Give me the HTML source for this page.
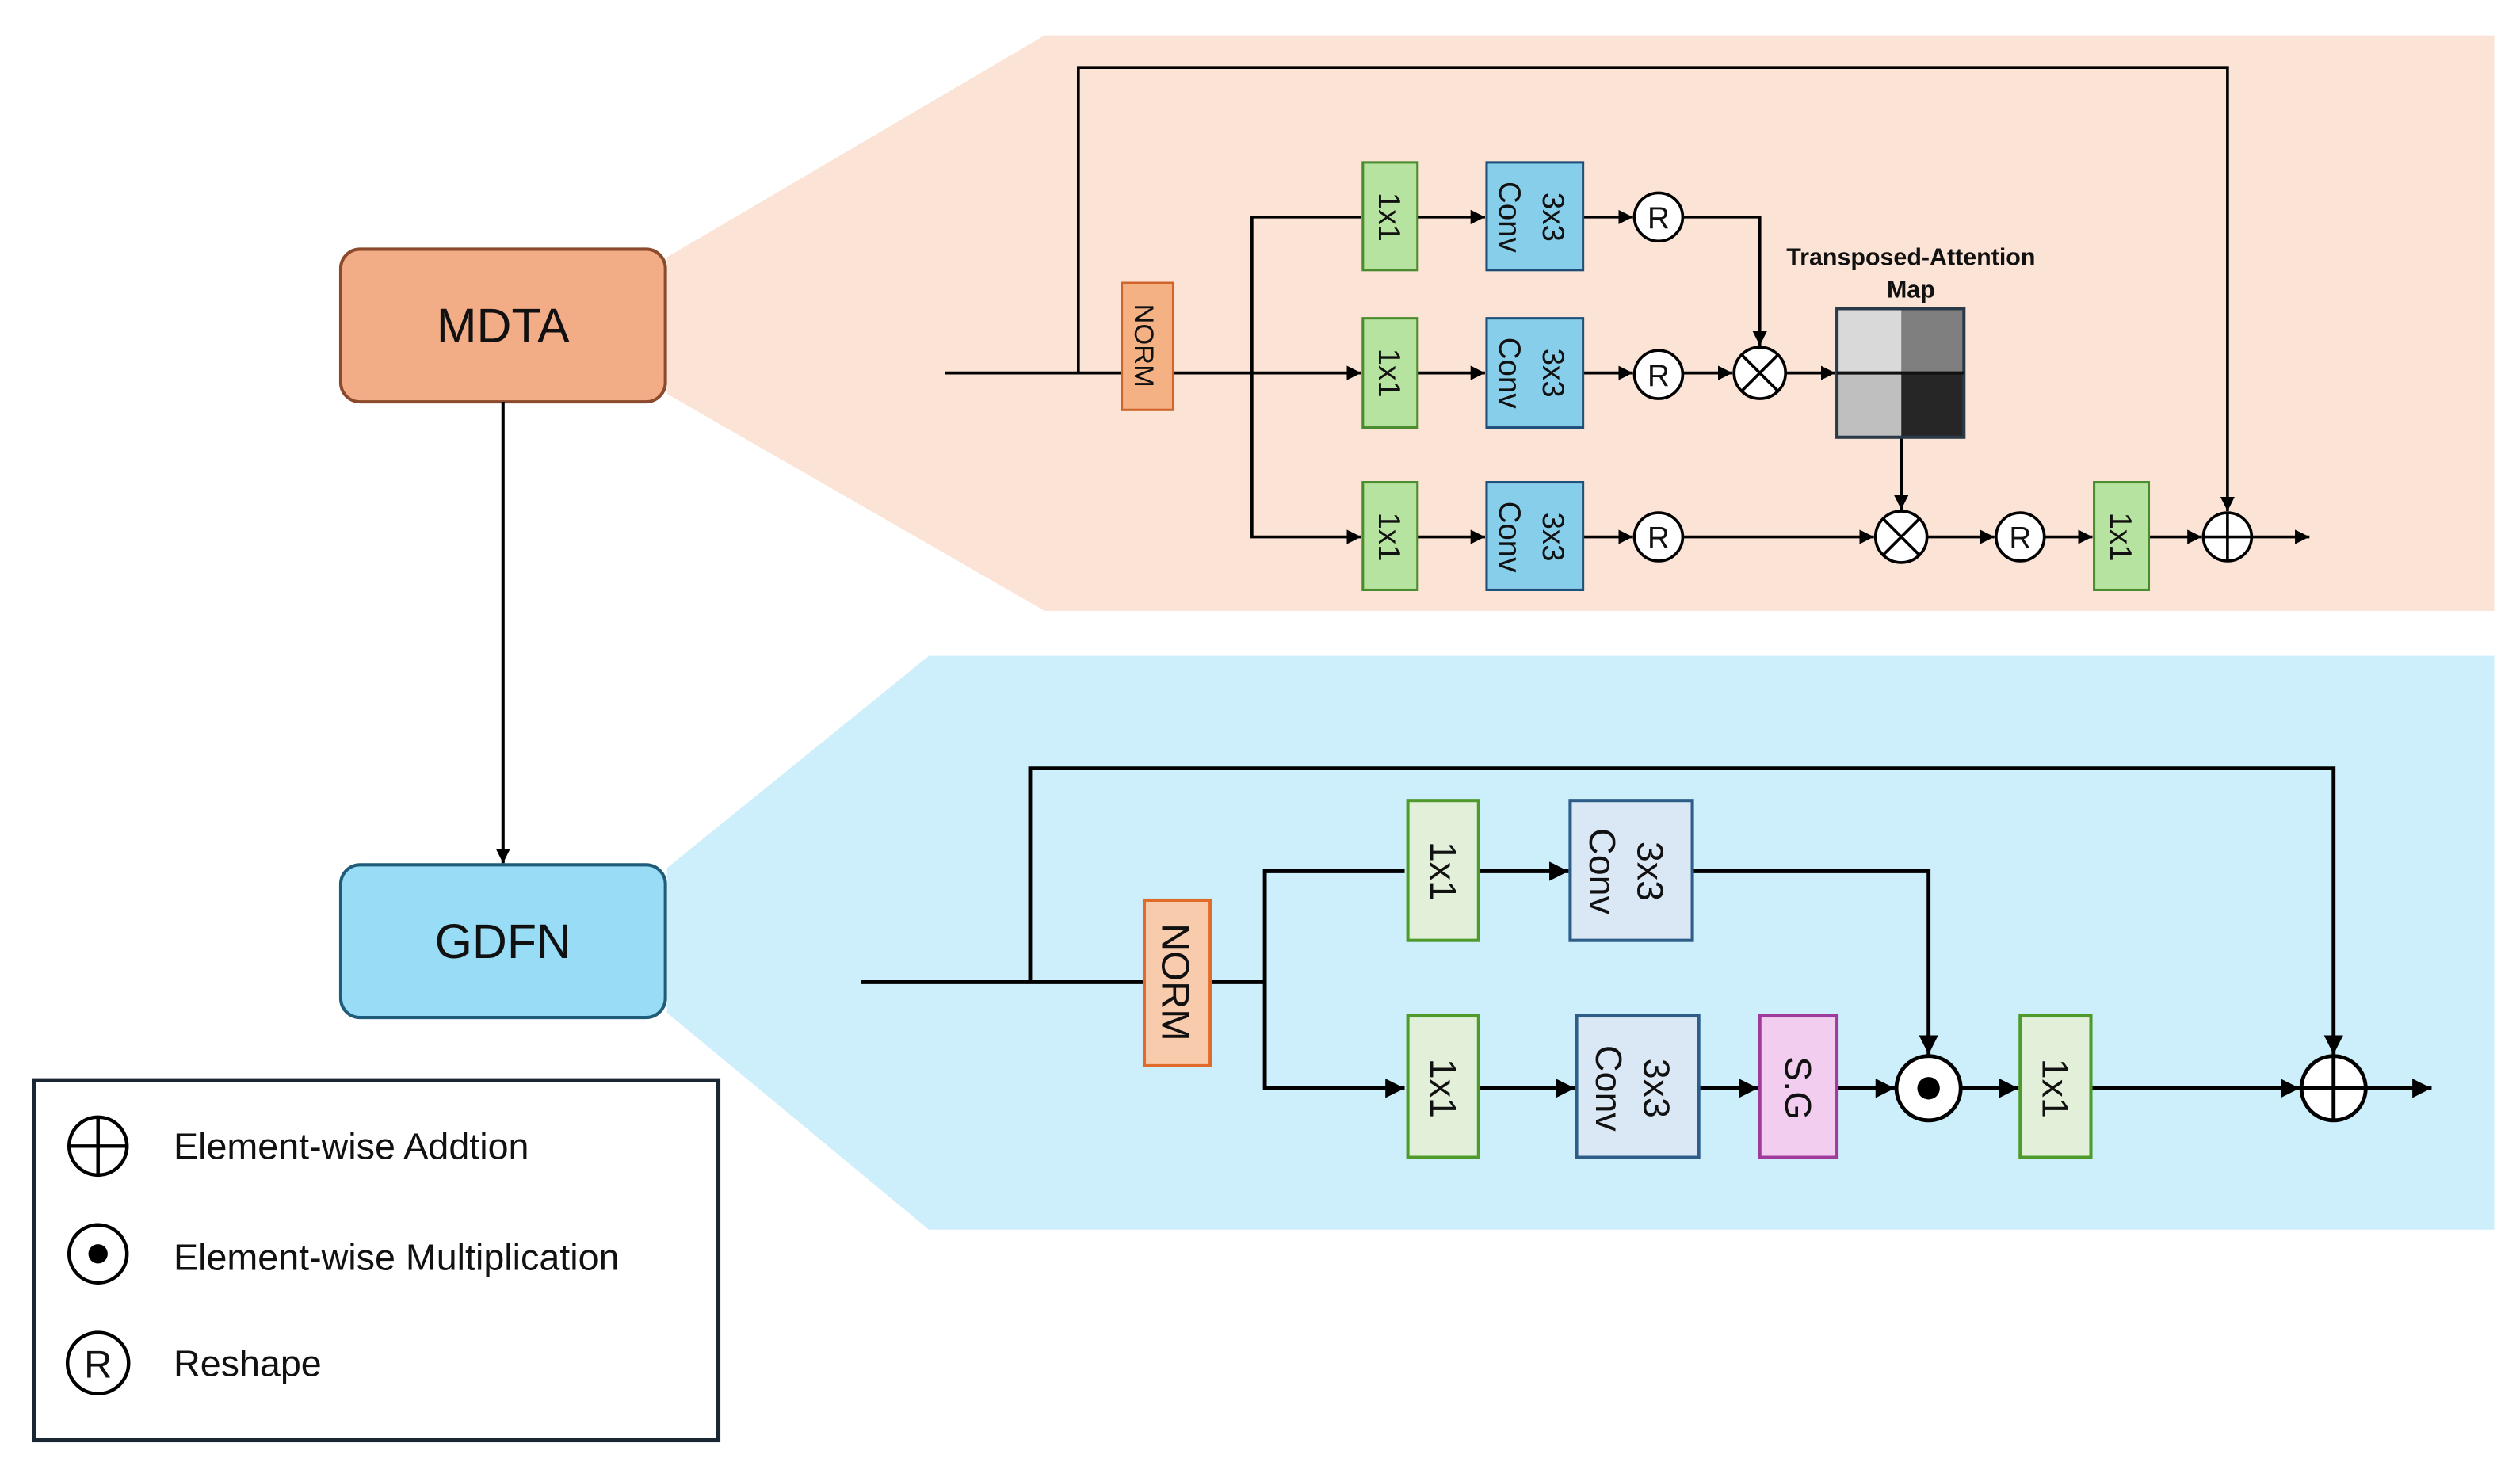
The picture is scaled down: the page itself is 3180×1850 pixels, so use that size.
<!DOCTYPE html>
<html><head><meta charset="utf-8"><style>html,body{margin:0;padding:0;background:#fff}svg{display:block}text{font-family:"Liberation Sans",sans-serif;fill:#111}</style></head>
<body>
<svg width="3180" height="1850" viewBox="0 0 1568 912" preserveAspectRatio="none" xmlns="http://www.w3.org/2000/svg">
<defs>
<marker id="a" viewBox="0 0 10 10" refX="10" refY="5" markerWidth="5" markerHeight="5" orient="auto-start-reverse"><path d="M0,0L10,5L0,10z" fill="#000"/></marker>
<marker id="b" viewBox="0 0 10 10" refX="10" refY="5" markerWidth="4.5" markerHeight="4.5" orient="auto-start-reverse"><path d="M0,0L10,5L0,10z" fill="#000"/></marker>
</defs>
<polygon points="415,160 650,22 1552,22 1552,380 650,380 415,245" fill="#fbe3d6"/>
<polygon points="415,540 578,408 1552,408 1552,765 578,765 415,630" fill="#cdeefb"/>
<rect x="212" y="155" width="202" height="95" rx="12" fill="#f2ad86" stroke="#8b4a2b" stroke-width="2"/>
<text x="313" y="213" font-size="30" text-anchor="middle">MDTA</text>
<rect x="212" y="538" width="202" height="95" rx="12" fill="#98dcf5" stroke="#1f5c7a" stroke-width="2"/>
<text x="313" y="596" font-size="30" text-anchor="middle">GDFN</text>
<line x1="313" y1="250" x2="313" y2="537" stroke="#000" stroke-width="2" marker-end="url(#b)"/>
<rect x="21" y="672" width="426" height="224" fill="#fff" stroke="#1a2633" stroke-width="2.5"/>
<g stroke="#000" stroke-width="2.2" fill="#fff">
<circle cx="61" cy="713" r="18"/><line x1="43" y1="713" x2="79" y2="713"/><line x1="61" y1="695" x2="61" y2="731"/>
<circle cx="61" cy="780" r="18"/><circle cx="61" cy="848" r="19"/></g>
<circle cx="61" cy="780" r="6" fill="#000"/>
<text x="61" y="857" font-size="24" text-anchor="middle">R</text>
<text x="108" y="721" font-size="23">Element-wise Addtion</text>
<text x="108" y="790" font-size="23">Element-wise Multiplication</text>
<text x="108" y="856" font-size="23">Reshape</text>

<!-- MDTA -->
<g stroke="#000" stroke-width="1.8" fill="none">
<line x1="588" y1="232" x2="698" y2="232"/>
<polyline points="671,232 671,42 1386,42 1386,318" marker-end="url(#a)"/>
<line x1="730" y1="232" x2="847" y2="232" marker-end="url(#a)"/>
<polyline points="847,135 779,135 779,334 847,334" marker-end="url(#a)"/>
<line x1="882" y1="135" x2="924" y2="135" marker-end="url(#a)"/>
<line x1="882" y1="232" x2="924" y2="232" marker-end="url(#a)"/>
<line x1="882" y1="334" x2="924" y2="334" marker-end="url(#a)"/>
<line x1="985" y1="135" x2="1016" y2="135" marker-end="url(#a)"/>
<line x1="985" y1="232" x2="1016" y2="232" marker-end="url(#a)"/>
<line x1="985" y1="334" x2="1016" y2="334" marker-end="url(#a)"/>
<polyline points="1047,135 1095,135 1095,215" marker-end="url(#a)"/>
<line x1="1047" y1="232" x2="1078" y2="232" marker-end="url(#a)"/>
<line x1="1111" y1="232" x2="1142" y2="232" marker-end="url(#a)"/>
<line x1="1183" y1="272" x2="1183" y2="317" marker-end="url(#a)"/>
<line x1="1047" y1="334" x2="1166" y2="334" marker-end="url(#a)"/>
<line x1="1199" y1="334" x2="1241" y2="334" marker-end="url(#a)"/>
<line x1="1272" y1="334" x2="1302" y2="334" marker-end="url(#a)"/>
<line x1="1337" y1="334" x2="1370" y2="334" marker-end="url(#a)"/>
<line x1="1401" y1="334" x2="1437" y2="334" marker-end="url(#a)"/>
</g>
<rect x="698" y="176" width="32" height="79" fill="#f4b183" stroke="#d0652b" stroke-width="1.5"/>
<text transform="translate(706,215) rotate(90)" font-size="17" text-anchor="middle">NORM</text>
<g fill="#b6e3a0" stroke="#4a8b2e" stroke-width="1.5">
<rect x="848" y="101" width="34" height="67"/><rect x="848" y="198" width="34" height="68"/><rect x="848" y="300" width="34" height="67"/><rect x="1303" y="300" width="34" height="67"/></g>
<g font-size="19" text-anchor="middle">
<text transform="translate(858,135) rotate(90)">1x1</text>
<text transform="translate(858,232) rotate(90)">1x1</text>
<text transform="translate(858,334) rotate(90)">1x1</text>
<text transform="translate(1313,334) rotate(90)">1x1</text></g>
<g fill="#87ceeb" stroke="#1f4e79" stroke-width="1.5">
<rect x="925" y="101" width="60" height="67"/><rect x="925" y="198" width="60" height="68"/><rect x="925" y="300" width="60" height="67"/></g>
<g font-size="19" text-anchor="middle">
<text transform="translate(960,135) rotate(90)">3x3</text><text transform="translate(933,135) rotate(90)">Conv</text>
<text transform="translate(960,232) rotate(90)">3x3</text><text transform="translate(933,232) rotate(90)">Conv</text>
<text transform="translate(960,334) rotate(90)">3x3</text><text transform="translate(933,334) rotate(90)">Conv</text></g>
<g fill="#fff" stroke="#000" stroke-width="1.8">
<circle cx="1032" cy="135" r="15"/><circle cx="1032" cy="233" r="15"/><circle cx="1032" cy="334" r="15"/><circle cx="1257" cy="334" r="15"/>
<circle cx="1095" cy="232" r="16"/><circle cx="1183" cy="334" r="16"/><circle cx="1386" cy="334" r="15"/></g>
<g stroke="#000" stroke-width="1.8">
<line x1="1084" y1="221" x2="1106" y2="243"/><line x1="1106" y1="221" x2="1084" y2="243"/>
<line x1="1172" y1="323" x2="1194" y2="345"/><line x1="1194" y1="323" x2="1172" y2="345"/>
<line x1="1371" y1="334" x2="1401" y2="334"/><line x1="1386" y1="319" x2="1386" y2="349"/></g>
<g font-size="19" text-anchor="middle"><text x="1032" y="142">R</text><text x="1032" y="240">R</text><text x="1032" y="341">R</text><text x="1257" y="341">R</text></g>
<text x="1189" y="165" font-size="15" font-weight="bold" text-anchor="middle">Transposed-Attention</text>
<text x="1189" y="185" font-size="15" font-weight="bold" text-anchor="middle">Map</text>
<rect x="1143" y="192" width="40" height="40" fill="#d9d9d9"/><rect x="1183" y="192" width="39" height="40" fill="#7f7f7f"/>
<rect x="1143" y="232" width="40" height="40" fill="#bfbfbf"/><rect x="1183" y="232" width="39" height="40" fill="#262626"/>
<rect x="1143" y="192" width="79" height="80" fill="none" stroke="#2a3a48" stroke-width="2"/>
<line x1="1143" y1="232" x2="1222" y2="232" stroke="#111" stroke-width="2"/>

<!-- GDFN -->
<g stroke="#000" stroke-width="2.4" fill="none">
<line x1="536" y1="611" x2="712" y2="611"/>
<polyline points="641,611 641,478 1452,478 1452,656" marker-end="url(#a)"/>
<line x1="753" y1="611" x2="787" y2="611"/>
<polyline points="874,542 787,542 787,677 874,677" marker-end="url(#a)"/>
<line x1="920" y1="542" x2="976" y2="542" marker-end="url(#a)"/>
<line x1="920" y1="677" x2="980" y2="677" marker-end="url(#a)"/>
<polyline points="1053,542 1200,542 1200,656" marker-end="url(#a)"/>
<line x1="1057" y1="677" x2="1094" y2="677" marker-end="url(#a)"/>
<line x1="1143" y1="677" x2="1179" y2="677" marker-end="url(#a)"/>
<line x1="1220" y1="677" x2="1256" y2="677" marker-end="url(#a)"/>
<line x1="1301" y1="677" x2="1431" y2="677" marker-end="url(#a)"/>
<line x1="1472" y1="677" x2="1513" y2="677" marker-end="url(#a)"/>
</g>
<rect x="712" y="560" width="41" height="103" fill="#f8cbad" stroke="#e06b2a" stroke-width="2"/>
<text transform="translate(723,611) rotate(90)" font-size="24" text-anchor="middle">NORM</text>
<g fill="#e2f0d9" stroke="#4e9a2a" stroke-width="2">
<rect x="876" y="498" width="44" height="87"/><rect x="876" y="632" width="44" height="88"/><rect x="1257" y="632" width="44" height="88"/></g>
<g font-size="23" text-anchor="middle">
<text transform="translate(890,542) rotate(90)">1x1</text>
<text transform="translate(890,677) rotate(90)">1x1</text>
<text transform="translate(1271,677) rotate(90)">1x1</text></g>
<g fill="#dae8f5" stroke="#2e5d8a" stroke-width="2">
<rect x="977" y="498" width="76" height="87"/><rect x="981" y="632" width="76" height="88"/></g>
<g font-size="23" text-anchor="middle">
<text transform="translate(1019,542) rotate(90)">3x3</text><text transform="translate(989,542) rotate(90)">Conv</text>
<text transform="translate(1023,677) rotate(90)">3x3</text><text transform="translate(993,677) rotate(90)">Conv</text></g>
<rect x="1095" y="632" width="48" height="88" fill="#f2cdf0" stroke="#a03a9c" stroke-width="2"/>
<text transform="translate(1111,677) rotate(90)" font-size="23" text-anchor="middle">S.G</text>
<g fill="#fff" stroke="#000" stroke-width="2.4"><circle cx="1200" cy="677" r="20"/><circle cx="1452" cy="677" r="20"/></g>
<circle cx="1200" cy="677" r="7" fill="#000"/>
<g stroke="#000" stroke-width="2.4"><line x1="1432" y1="677" x2="1472" y2="677"/><line x1="1452" y1="657" x2="1452" y2="697"/></g>
</svg>
</body></html>
